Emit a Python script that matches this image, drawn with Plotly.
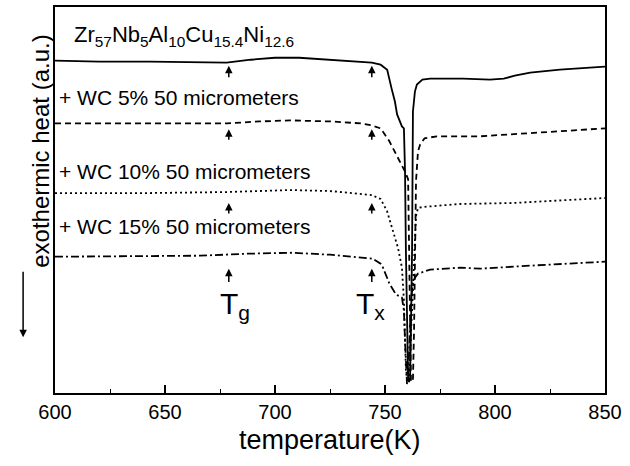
import plotly.graph_objects as go

# temperature (K) and signal (a.u.) for each curve
t_base = [600, 620, 643, 666, 678, 689, 700, 711, 725, 739, 744, 748, 751, 753, 754.5, 755.5,
          757, 757.7, 758.6, 759.1, 759.5, 760, 760.5, 760.9, 761.4, 761.8, 762.3, 762.7,
          763.6, 764.5, 767, 770.5, 785.5, 797.7, 804, 809, 816, 829.5, 850]
v_base = [334, 333, 333, 332, 332, 335, 337, 337, 335, 333, 332, 330, 325, 306, 293, 280,
          271, 268, 266, 223, 143, 63, 15, 11, 15, 63, 143, 283,
          303, 310, 315, 316, 316, 315, 316, 319, 322, 325, 328]

t_wc5 = [600, 643, 678, 693, 707, 725, 739, 744, 748, 752, 756, 759, 760.5, 761, 761.4,
         761.8, 762.3, 762.7, 763.2, 763.6, 764.1, 765, 766, 768, 773.6, 793, 816, 850]
v_wc5 = [271, 271, 271, 273, 274, 273, 271, 269, 266, 253, 236, 223, 215, 143, 63,
         13, 11, 13, 63, 143, 213, 243, 250, 256, 258, 258, 261, 266]

t_wc10 = [600, 643, 678, 693, 707, 725, 740, 744, 748, 750.9, 753.6, 755.9, 757.7, 758.6,
          759.1, 759.5, 760, 760.5, 760.9, 761.8, 762.7, 763.6, 764.1, 765, 767.3, 784,
          808.2, 850]
v_wc10 = [201, 201, 202, 203, 204, 203, 200, 199, 195, 183, 163, 146, 126, 93,
          53, 23, 13, 11, 15, 53, 103, 153, 178, 186, 187, 190,
          191, 196]

t_wc15 = [600, 643, 666, 687, 708, 725, 739, 744.5, 748, 749.1, 752, 755, 757.7, 758.6,
          759.1, 759.5, 760, 760.5, 760.9, 761.4, 761.8, 762.7, 763.6, 765, 770.5, 784,
          793.2, 816, 850]
v_wc15 = [137, 138, 138, 140, 141, 139, 136, 135, 130, 126, 110, 99, 96, 83,
          53, 23, 9, 13, 43, 73, 93, 110, 116, 120, 124, 126,
          125, 128, 132]

names = ["Zr57Nb5Al10Cu15.4Ni12.6", "+ WC 5% 50 micrometers",
         "+ WC 10% 50 micrometers", "+ WC 15% 50 micrometers"]
label_html = ["Zr<sub>57</sub>Nb<sub>5</sub>Al<sub>10</sub>Cu<sub>15.4</sub>Ni<sub>12.6</sub>",
              "+ WC 5% 50 micrometers", "+ WC 10% 50 micrometers", "+ WC 15% 50 micrometers"]
label_y = [359, 297, 223, 167]
label_x = [607.5, 601, 601, 601]

tg_temp = 679
tx_temp = 744
arrow_head = [329, 265, 191, 125]
arrow_tail = [316, 253, 179, 110]

FONT = "Liberation Sans, Arial, Helvetica, sans-serif"

fig = go.Figure()
series = [(t_base, v_base, "solid"), (t_wc5, v_wc5, "6px,4px"),
          (t_wc10, v_wc10, "2px,3px"), (t_wc15, v_wc15, "8px,3px,2px,3px")]
for (t, v, dash), nm in zip(series, names):
    fig.add_trace(go.Scatter(x=t, y=v, mode="lines", name=nm,
                             line=dict(color="black", width=1.8, dash=dash),
                             showlegend=False))

ann = []
for txt, x, y in zip(label_html, label_x, label_y):
    ann.append(dict(x=x, y=y, xref="x", yref="y", text=txt, showarrow=False,
                    xanchor="left", yanchor="middle",
                    font=dict(family=FONT, size=22 if txt.startswith("Zr") else 21, color="black")))
for h, tl in zip(arrow_head, arrow_tail):
    for tt in (tg_temp, tx_temp):
        ann.append(dict(x=tt, y=h, ax=tt, ay=tl, xref="x", yref="y", axref="x", ayref="y",
                        text="", showarrow=True, arrowhead=2, arrowsize=1.0,
                        arrowwidth=1.5, arrowcolor="black"))
ann.append(dict(x=682, y=88, xref="x", yref="y", text="T<sub>g</sub>", showarrow=False,
                font=dict(family=FONT, size=30, color="black")))
ann.append(dict(x=743.5, y=88, xref="x", yref="y", text="T<sub>x</sub>", showarrow=False,
                font=dict(family=FONT, size=30, color="black")))
# y-axis title with arrow
ann.append(dict(x=-0.0545, y=(393 - 150) / 388, xref="paper", yref="paper",
                text="exothermic heat (a.u.)", showarrow=False, textangle=-90,
                font=dict(family=FONT, size=24, color="black")))
ann.append(dict(x=-0.058, y=(393 - 337) / 388, xref="paper", yref="paper",
                text="", showarrow=True, ax=0, ay=-67, arrowhead=2, arrowsize=1.0,
                arrowwidth=1.5, arrowcolor="black"))
ann.append(dict(x=0.5, y=(393 - 440) / 388, xref="paper", yref="paper",
                text="temperature(K)", showarrow=False, yanchor="middle",
                font=dict(family=FONT, size=27, color="black")))

fig.update_layout(
    width=630, height=466,
    margin=dict(l=55, r=25, t=5, b=73),
    paper_bgcolor="white", plot_bgcolor="white",
    annotations=ann,
    xaxis=dict(range=[600, 850], tickvals=[600, 650, 700, 750, 800, 850],
               ticks="inside", ticklen=8, tickwidth=1.5, tickcolor="black",
               minor=dict(ticks="inside", ticklen=4, tickwidth=1.2, tickcolor="black",
                          tickvals=[625, 675, 725, 775, 825]),
               showline=True, linecolor="black", linewidth=2, mirror=True,
               showgrid=False, zeroline=False,
               tickfont=dict(family=FONT, size=20, color="black")),
    yaxis=dict(range=[0, 388], showticklabels=False, ticks="",
               showline=True, linecolor="black", linewidth=2, mirror=True,
               showgrid=False, zeroline=False),
)
fig.write_html("out.html", config={"displayModeBar": False},
               post_script="document.body.style.margin='0';document.body.style.padding='0';")
